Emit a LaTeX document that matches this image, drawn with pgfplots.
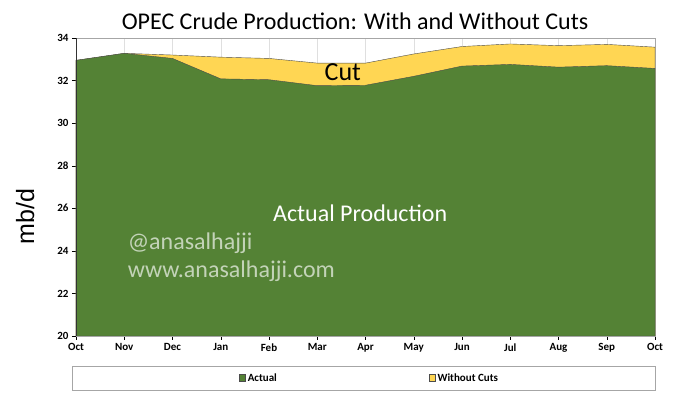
\documentclass[border=0pt]{standalone}
\usepackage{fontspec}
\setmainfont{Carlito}
\newfontfamily\arialfont{Liberation Sans}
\usepackage{pgfplots}
\pgfplotsset{compat=1.18}
\definecolor{actgreen}{HTML}{548235}
\definecolor{cutyellow}{HTML}{FFD653}
\begin{document}
\begin{tikzpicture}[x=1pt,y=1pt]
\path[use as bounding box] (-76,-62) rectangle (601,336);
\begin{axis}[
  at={(0,0)}, anchor=south west,
  scale only axis, width=579pt, height=298pt,
  xmin=0, xmax=12, ymin=20, ymax=34,
  xtick={0,...,12},
  xticklabels={Oct,Nov,Dec,Jan,Feb,Mar,Apr,May,Jun,Jul,Aug,Sep,Oct},
  ytick={20,22,...,34},
  /pgf/number format/assume math mode=true,
  ticklabel style={font=\fontsize{11}{13}\selectfont\bfseries},
  xtick pos=bottom, ytick pos=left,
  tick align=outside, major tick length=4pt,
  tick style={black},
  xmajorgrids, grid style={gray!25},
  axis line style={gray!70},
  ylabel={\arialfont mb/d},
  ylabel style={font=\fontsize{25}{28}\selectfont, at={(axis description cs:-0.066,0.40)}},
  title={OPEC Crude Production: With and Without Cuts},
  title style={font=\fontsize{24}{28}\selectfont, at={(axis description cs:0.482,1.0)}, anchor=south, yshift=-1pt},
  legend columns=2,
  legend style={at={(axis description cs:0.507,-0.141)}, anchor=center, draw=none, fill=none,
    font=\fontsize{11}{13}\selectfont\bfseries,
    /tikz/every even column/.append style={column sep=150pt}},
  legend image code/.code={\draw[#1, draw=black!70] (0cm,-0.11cm) rectangle (0.22cm,0.13cm);},
]
\addplot[fill=cutyellow, draw=black!70, line width=0.4pt, forget plot] coordinates {
(0,32.95) (1,33.28) (2,33.2) (3,33.1) (4,33.04) (5,32.82) (6,32.82) (7,33.25) (8,33.6) (9,33.72) (10,33.64) (11,33.7) (12,33.57)
} \closedcycle;
\addplot[fill=actgreen, draw=black!70, line width=0.4pt] coordinates {
(0,32.95) (1,33.28) (2,33.04) (3,32.08) (4,32.04) (5,31.76) (6,31.78) (7,32.2) (8,32.68) (9,32.76) (10,32.63) (11,32.7) (12,32.57)
} \closedcycle;
\addlegendentry{Actual}
\addlegendimage{fill=cutyellow}
\addlegendentry{Without Cuts}
\node[font=\fontsize{26}{30}\selectfont] at (axis cs:5.53,32.4) {Cut};
\node[font=\fontsize{24}{28}\selectfont, text=white] at (axis cs:5.89,25.75) {Actual Production};
\node[font=\fontsize{24}{28}\selectfont, text=white, opacity=0.65, anchor=west] at (axis cs:1.0,24.37) {@anasalhajji};
\node[font=\fontsize{24}{28}\selectfont, text=white, opacity=0.65, anchor=west] at (axis cs:1.0,23.06) {www.anasalhajji.com};
\draw[black!80, line width=0.6pt] (rel axis cs:0,0) -- (rel axis cs:0,1);
\draw[black!80, line width=0.6pt] (rel axis cs:0,0) -- (rel axis cs:1,0);
\end{axis}
\draw[gray!70, line width=0.5pt] (-4,-54) rectangle (579,-30);
\end{tikzpicture}
\end{document}
